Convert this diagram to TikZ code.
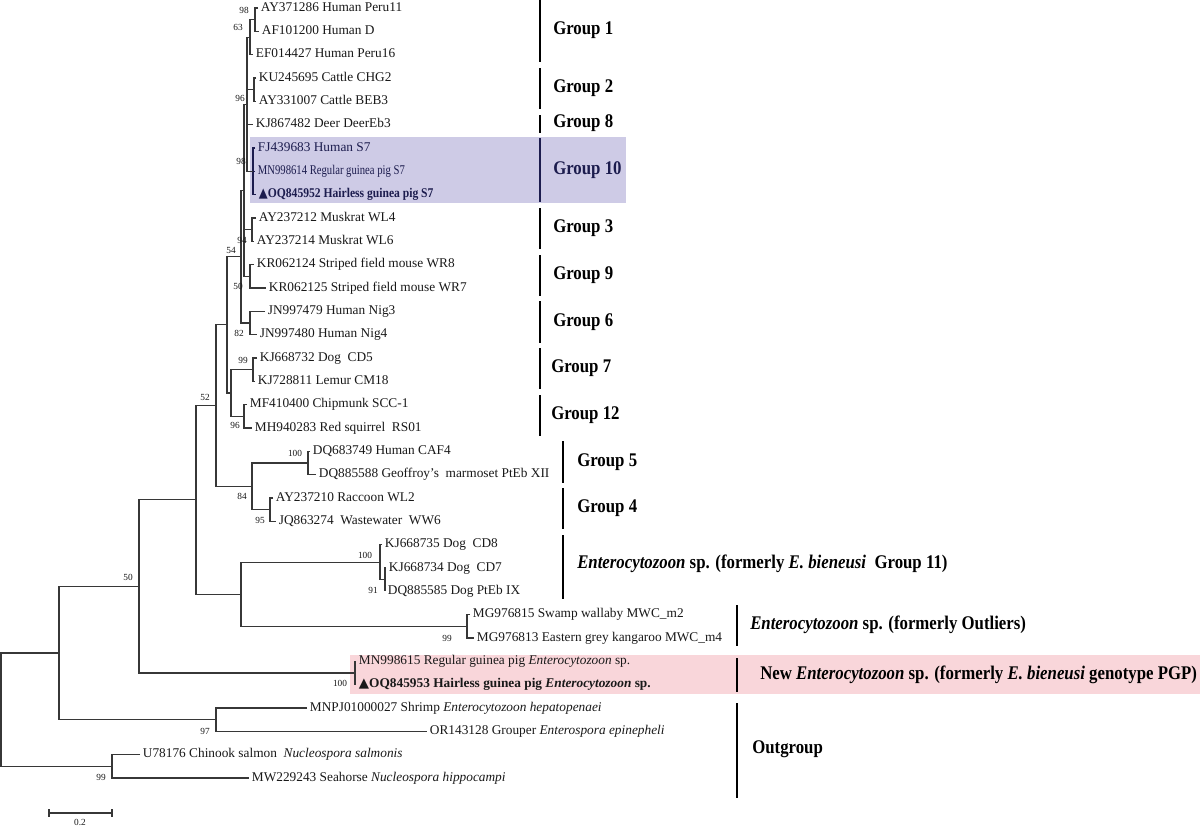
\documentclass[tikz,border=0pt]{standalone}
\usepackage{fontspec}
\usepackage{graphicx}
\setmainfont{Liberation Serif}
\newfontfamily\symfnt{DejaVu Sans}
\newcommand\mytri{{\symfnt ▲}}
\newcommand\gs[1]{\scalebox{1}[1.15]{#1}}
\definecolor{linec}{RGB}{55,55,55}
\definecolor{textc}{RGB}{25,25,25}
\definecolor{navyc}{RGB}{28,28,78}
\definecolor{lavc}{RGB}{206,203,230}
\definecolor{pinkc}{RGB}{249,214,218}
\tikzset{
  br/.style={draw=linec, line width=0.85pt},
  nbr/.style={draw=navyc, line width=0.85pt},
  leaf/.style={anchor=mid west, inner sep=0pt, inner xsep=2pt, font=\fontsize{10}{12}\selectfont, text=textc},
  bsv/.style={inner sep=0pt, font=\fontsize{7}{8}\selectfont, text=textc},
  grp/.style={anchor=mid west, inner sep=0pt, font=\fontsize{12.6}{15}\selectfont\bfseries, text=black},
  gbar/.style={draw=black, line width=1.6pt},
}
\begin{document}
\begin{tikzpicture}[x=0.75pt,y=-0.75pt]
\useasboundingbox (0,0) rectangle (1200,828);
\fill[white] (0,0) rectangle (1200,828);
% highlight boxes
\fill[lavc] (250,137) rectangle (626,203);
\fill[pinkc] (350,655) rectangle (1200,694);

% leaves
\node[leaf] (l1) at (258,8.0) {AY371286 Human Peru11};
\node[leaf] (l2) at (259,31.3) {AF101200 Human D};
\node[leaf] (l3) at (253,54.7) {EF014427 Human Peru16};
\node[leaf] (l4) at (256,78.0) {KU245695 Cattle CHG2};
\node[leaf] (l5) at (256,101.3) {AY331007 Cattle BEB3};
\node[leaf] (l6) at (253,124.7) {KJ867482 Deer DeerEb3};
\node[leaf,text=navyc] (l7) at (255,148.0) {FJ439683 Human S7};
\node[leaf,text=navyc] (l8) at (255,171.3) {\scalebox{0.8}[1]{MN998614 Regular guinea pig S7}};
\node[leaf,text=navyc] (l9) at (256,194.7) {\scalebox{0.87}[1]{\textbf{\mytri OQ845952 Hairless guinea pig S7}}};
\node[leaf] (l10) at (256,218.0) {AY237212 Muskrat WL4};
\node[leaf] (l11) at (254,241.3) {AY237214 Muskrat WL6};
\node[leaf] (l12) at (254,264.7) {KR062124 Striped field mouse WR8};
\node[leaf] (l13) at (266,288.0) {KR062125 Striped field mouse WR7};
\node[leaf] (l14) at (265,311.3) {JN997479 Human Nig3};
\node[leaf] (l15) at (257,334.7) {JN997480 Human Nig4};
\node[leaf] (l16) at (257,358.0) {KJ668732 Dog\ \ CD5};
\node[leaf] (l17) at (255,381.3) {KJ728811 Lemur CM18};
\node[leaf] (l18) at (247,404.7) {MF410400 Chipmunk SCC-1};
\node[leaf] (l19) at (252,428.0) {MH940283 Red squirrel\ \ RS01};
\node[leaf] (l20) at (310,451.3) {DQ683749 Human CAF4};
\node[leaf] (l21) at (316,474.7) {DQ885588 Geoffroy's\ \ marmoset PtEb XII};
\node[leaf] (l22) at (273,498.0) {AY237210 Raccoon WL2};
\node[leaf] (l23) at (276,521.3) {JQ863274\ \ Wastewater\ \ WW6};
\node[leaf] (l24) at (382,544.7) {KJ668735 Dog\ \ CD8};
\node[leaf] (l25) at (386,568.0) {KJ668734 Dog\ \ CD7};
\node[leaf] (l26) at (385,591.3) {DQ885585 Dog PtEb IX};
\node[leaf] (l27) at (470,614.7) {MG976815 Swamp wallaby MWC\_m2};
\node[leaf] (l28) at (474,638.0) {MG976813 Eastern grey kangaroo MWC\_m4};
\node[leaf] (l29) at (356,661.3) {MN998615 Regular guinea pig \textit{Enterocytozoon} sp.};
\node[leaf] (l30) at (356,684.7) {\textbf{\mytri OQ845953 Hairless guinea pig \textit{Enterocytozoon} sp.}};
\node[leaf] (l31) at (307,708.0) {MNPJ01000027 Shrimp \textit{Enterocytozoon hepatopenaei}};
\node[leaf] (l32) at (427,731.3) {OR143128 Grouper \textit{Enterospora epinepheli}};
\node[leaf] (l33) at (140,754.7) {U78176 Chinook salmon\ \ \textit{Nucleospora salmonis}};
\node[leaf] (l34) at (249,778.0) {MW229243 Seahorse \textit{Nucleospora hippocampi}};

% internal nodes
\coordinate (H1) at (255,19.65);
\coordinate (H2) at (250,37.18);
\coordinate (Ca) at (254,89.65);
\coordinate (G10) at (253,171.35);
\coordinate (Y) at (247,104.26);
\coordinate (Mus) at (252,229.65);
\coordinate (Mou) at (250,276.35);
\coordinate (X) at (244,190.3);
\coordinate (Nig) at (250,323.0);
\coordinate (K) at (241,256.65);
\coordinate (DL) at (253,369.65);
\coordinate (CS) at (244,416.35);
\coordinate (G712) at (231,393.0);
\coordinate (I) at (227,324.8);
\coordinate (G5) at (308,463.0);
\coordinate (G4) at (270,509.65);
\coordinate (F) at (252,486.3);
\coordinate (D) at (216,405.55);
\coordinate (G11s) at (385,579.65);
\coordinate (G11) at (380,562.2);
\coordinate (Out) at (467,626.35);
\coordinate (E) at (241,594.3);
\coordinate (C) at (196,499.9);
\coordinate (PGP) at (355,673.0);
\coordinate (B) at (139,586.45);
\coordinate (OG) at (216,719.65);
\coordinate (A) at (59,653.05);
\coordinate (Nuc) at (112,766.35);
\coordinate (R) at (1,709.7);

% branches
\draw[br] (l1.mid west) -| (H1) |- (l2.mid west);
\draw[br] (H1) -| (H2) |- (l3.mid west);
\draw[br] (l4.mid west) -| (Ca) |- (l5.mid west);
\draw[nbr] (l7.mid west) -| (G10) |- (l9.mid west);
\draw[nbr] (G10 |- l8.mid west) -- (l8.mid west);
\draw[br] (H2) -| (Y) |- (G10);
\draw[br] (Y |- Ca) -- (Ca);
\draw[br] (Y |- l6.mid west) -- (l6.mid west);
\draw[br] (l10.mid west) -| (Mus) |- (l11.mid west);
\draw[br] (l12.mid west) -| (Mou) |- (l13.mid west);
\draw[br] (Y) -| (X) |- (Mou);
\draw[br] (X |- Mus) -- (Mus);
\draw[br] (l14.mid west) -| (Nig) |- (l15.mid west);
\draw[br] (X) -| (K) |- (Nig);
\draw[br] (l16.mid west) -| (DL) |- (l17.mid west);
\draw[br] (l18.mid west) -| (CS) |- (l19.mid west);
\draw[br] (DL) -| (G712) |- (CS);
\draw[br] (K) -| (I) |- (G712);
\draw[br] (l20.mid west) -| (G5) |- (l21.mid west);
\draw[br] (l22.mid west) -| (G4) |- (l23.mid west);
\draw[br] (G5) -| (F) |- (G4);
\draw[br] (I) -| (D) |- (F);
\draw[br] (l25.mid west) -| (G11s) |- (l26.mid west);
\draw[br] (l24.mid west) -| (G11) |- (G11s);
\draw[br] (l27.mid west) -| (Out) |- (l28.mid west);
\draw[br] (G11) -| (E) |- (Out);
\draw[br] (D) -| (C) |- (E);
\draw[br] (l29.mid west) -| (PGP) |- (l30.mid west);
\draw[br] (C) -| (B) |- (PGP);
\draw[br] (l31.mid west) -| (OG) |- (l32.mid west);
\draw[br] (B) -| (A) |- (OG);
\draw[br] (l33.mid west) -| (Nuc) |- (l34.mid west);
\draw[br] (A) -| (R) |- (Nuc);

% bootstrap values
\node[bsv] (s1) at (244,10) {98};
\node[bsv] (s2) at (238,27) {63};
\node[bsv] (s3) at (240,98) {96};
\node[bsv] (s4) at (241,161) {98};
\node[bsv] (s5) at (242,240) {94};
\node[bsv] (s6) at (231,250) {54};
\node[bsv] (s7) at (238,286) {50};
\node[bsv] (s8) at (239,333) {82};
\node[bsv] (s9) at (243,360) {99};
\node[bsv] (s10) at (205,397) {52};
\node[bsv] (s11) at (235,425) {96};
\node[bsv] (s12) at (295,453) {100};
\node[bsv] (s13) at (242,496) {84};
\node[bsv] (s14) at (260,520) {95};
\node[bsv] (s15) at (365,555) {100};
\node[bsv] (s16) at (373,590) {91};
\node[bsv] (s17) at (128,577) {50};
\node[bsv] (s18) at (340,683) {100};
\node[bsv] (s19) at (447,638) {99};
\node[bsv] (s20) at (205,731) {97};
\node[bsv] (s21) at (101,777) {99};

% group bars
\draw[gbar] (540,0) -- (540,62);
\draw[gbar] (540,68) -- (540,109);
\draw[gbar] (540,115) -- (540,133);
\draw[gbar,draw=navyc] (540,138) -- (540,202);
\draw[gbar] (540,208) -- (540,249);
\draw[gbar] (540,255) -- (540,296);
\draw[gbar] (540,301) -- (540,343);
\draw[gbar] (540,348) -- (540,389);
\draw[gbar] (540,395) -- (540,436);
\draw[gbar] (563,441) -- (563,483);
\draw[gbar] (563,488) -- (563,529);
\draw[gbar] (563,535) -- (563,599);
\draw[gbar] (737,605) -- (737,646);
\draw[gbar] (737,658) -- (737,692);
\draw[gbar] (737,703) -- (737,798);

% group labels
\node[grp] (g1) at (553,31.3) {\gs{Group 1}};
\node[grp] (g2) at (553,89.6) {\gs{Group 2}};
\node[grp] (g8) at (553,124.7) {\gs{Group 8}};
\node[grp,text=navyc] (g10) at (553,171.3) {\gs{Group 10}};
\node[grp] (g3) at (553,229.6) {\gs{Group 3}};
\node[grp] (g9) at (553,276.3) {\gs{Group 9}};
\node[grp] (g6) at (553,323.0) {\gs{Group 6}};
\node[grp] (g7) at (551,369.6) {\gs{Group 7}};
\node[grp] (g12) at (551,416.3) {\gs{Group 12}};
\node[grp] (g5) at (577,463.0) {\gs{Group 5}};
\node[grp] (g4) at (577,509.6) {\gs{Group 4}};
\node[grp] (g11) at (577,565.0) {\gs{\textit{Enterocytozoon} sp. (formerly \textit{E. bieneusi}\ \ Group 11)}};
\node[grp] (gout) at (750,626.3) {\gs{\textit{Enterocytozoon} sp. (formerly Outliers)}};
\node[grp] (gpgp) at (760,676.0) {\gs{New \textit{Enterocytozoon} sp. (formerly \textit{E. bieneusi} genotype PGP)}};
\node[grp] (gog) at (752,750.0) {\gs{Outgroup}};

% scale bar
\coordinate (sbl) at (49,813);
\coordinate (sbr) at (112,813);
\draw[br] (sbl) -- (sbr);
\draw[br] ([yshift=3pt]sbl) -- ([yshift=-3pt]sbl);
\draw[br] ([yshift=3pt]sbr) -- ([yshift=-3pt]sbr);
\node[bsv] (sbt) at (80,822) {0.2};
\end{tikzpicture}
\end{document}
